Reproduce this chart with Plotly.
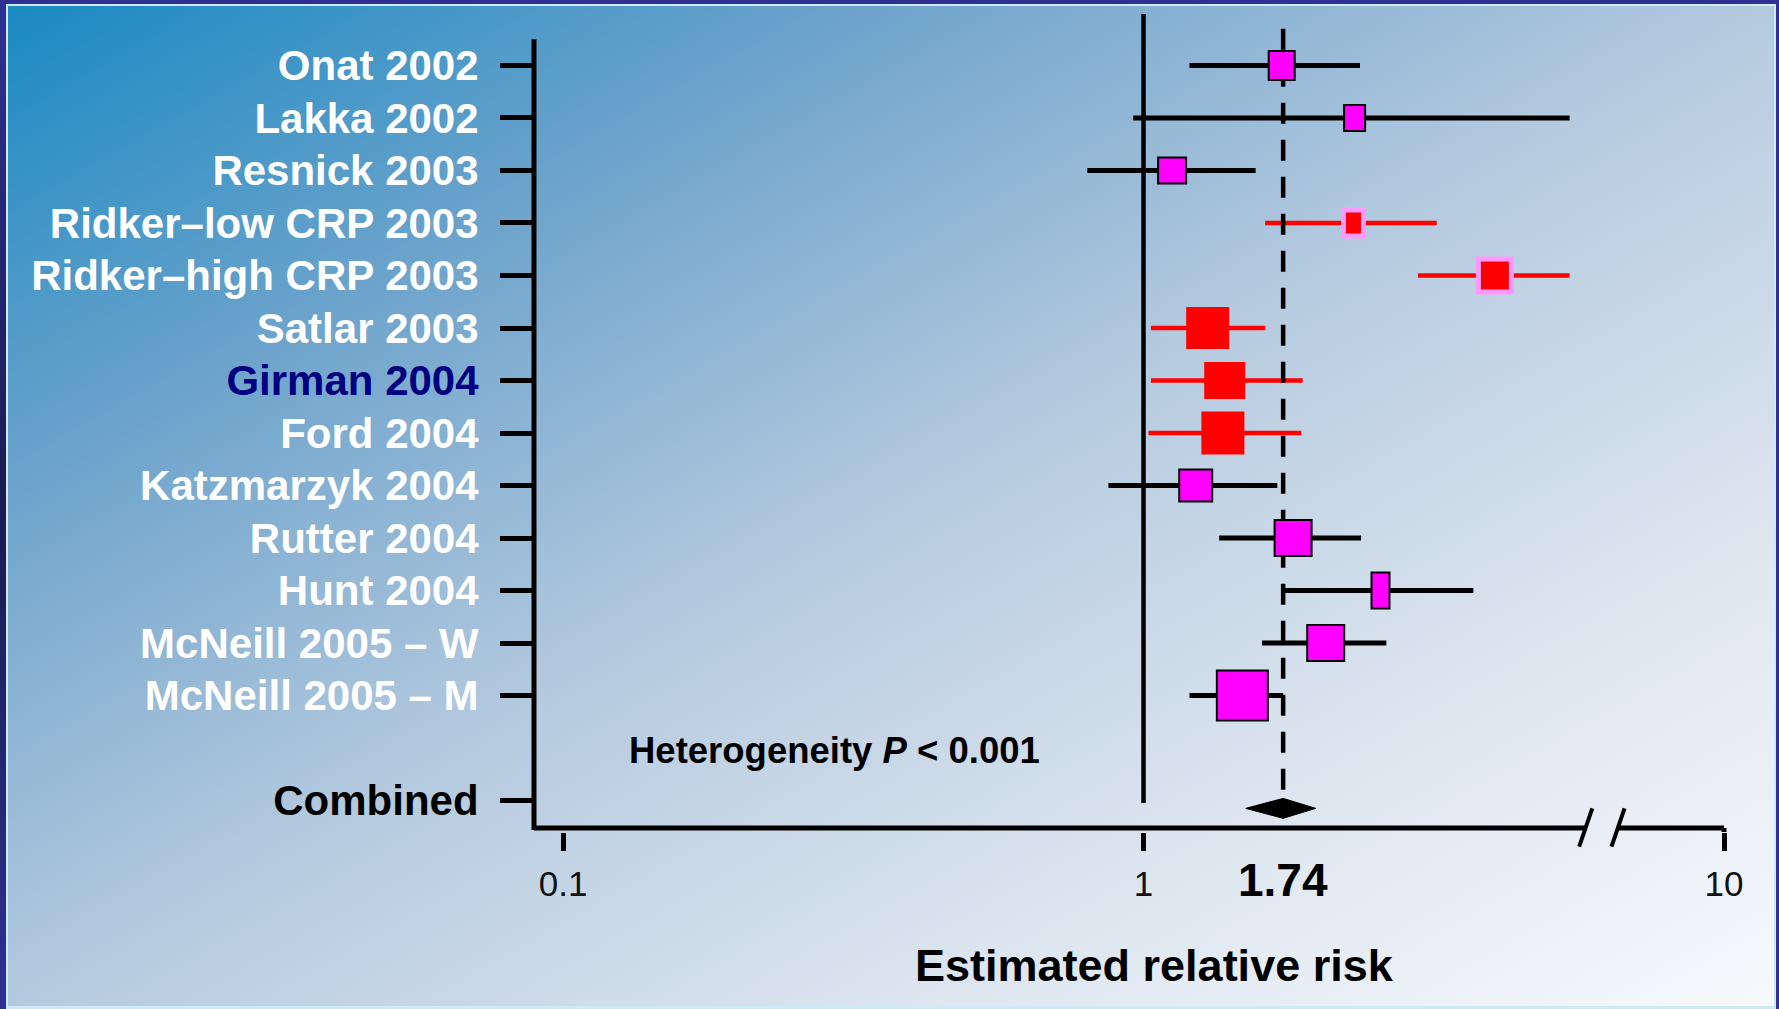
import base64
import math
import plotly.graph_objects as go

# ---------------------------------------------------------------- data
studies = [
    "Onat 2002", "Lakka 2002", "Resnick 2003", "Ridker–low CRP 2003",
    "Ridker–high CRP 2003", "Satlar 2003", "Girman 2004", "Ford 2004",
    "Katzmarzyk 2004", "Rutter 2004", "Hunt 2004", "McNeill 2005 – W",
    "McNeill 2005 – M",
]
rel_risk = [1.73, 2.31, 1.12, 2.30, 4.03, 1.29, 1.38, 1.37, 1.23, 1.81, 2.56, 2.06, 1.48]
ci_low = [1.20, 0.96, 0.80, 1.62, 2.97, 1.03, 1.03, 1.02, 0.87, 1.35, 1.73, 1.60, 1.20]
ci_high = [2.36, 5.42, 1.56, 3.20, 5.42, 1.62, 1.88, 1.87, 1.70, 2.37, 3.70, 2.62, 1.74]

pooled_label = "Combined"
pooled_rr = 1.74
pooled_low = 1.50
pooled_high = 1.98
heterogeneity_p = "0.001"

x_tick_values = [0.1, 1, 10]
x_tick_labels = ["0.1", "1", "10"]

# ---------------------------------------------------------------- styling
study_group = ["pink", "pink", "pink", "crp", "crp", "red", "red", "red",
               "pink", "pink", "pink", "pink", "pink"]
# outer box size in px (width, height) for each study's square
box_px = [(28, 31), (23, 28), (30, 28), (25, 31), (38, 38), (43, 42), (41, 37),
          (43, 43), (35, 34), (39, 38), (20, 38), (39, 38), (53, 52)]
label_color = {"Girman 2004": "#000080", pooled_label: "#000000"}

GROUP_STYLE = {
    "pink": dict(ci="#000000", ci_w=5, fill="#FF00FF", edge="#000000", edge_w=2),
    "red": dict(ci="#FF0000", ci_w=4.5, fill="#FF0000", edge="#FF0000", edge_w=0),
    "crp": dict(ci="#FF0000", ci_w=4.5, fill="#FF0000", edge="#FF99FF", edge_w=5),
}

FONT = "Liberation Sans, Arial, Helvetica, sans-serif"
W, H = 1779, 1009
L, R, T, B = 534, 19, 10, 177
PW, PH = W - L - R, H - T - B
X_RANGE = [-1.05, 1.062]          # log10 units
Y_RANGE = [15.6, -0.057]          # rows, top to bottom
PX_PER_DECADE = PW / (X_RANGE[1] - X_RANGE[0])
PX_PER_ROW = PH / (Y_RANGE[0] - Y_RANGE[1])

rows = list(range(1, len(studies) + 1))
pooled_row = len(studies) + 2
axis_top = 0.5
axis_base = 15.524


def paper_y(px):
    return (T + PH - px) / PH


# ---------------------------------------------------------------- background
svg = f"""<svg xmlns="http://www.w3.org/2000/svg" width="{W}" height="{H}" viewBox="0 0 {W} {H}" preserveAspectRatio="none">
<defs>
<linearGradient id="bg" x1="0" y1="0" x2="1" y2="1">
<stop offset="0" stop-color="#1A8AC2"/>
<stop offset="0.25" stop-color="#6FA4CC"/>
<stop offset="0.5" stop-color="#B5CADF"/>
<stop offset="0.75" stop-color="#DCE5EF"/>
<stop offset="1" stop-color="#F7F9FC"/>
</linearGradient>
<linearGradient id="edge" x1="0" y1="0" x2="0" y2="1">
<stop offset="0" stop-color="#2E3192"/>
<stop offset="0.5" stop-color="#1B1B4F"/>
<stop offset="1" stop-color="#2E3192"/>
</linearGradient>
</defs>
<rect x="0" y="0" width="{W}" height="{H}" fill="#2E3192"/>
<rect x="0" y="0" width="6" height="{H}" fill="url(#edge)"/>
<rect x="6" y="4" width="{W - 9}" height="{H - 4}" fill="#CDEAF7"/>
<rect x="8" y="6" width="{W - 13}" height="{H - 9}" fill="url(#bg)"/>
</svg>"""
bg_uri = "data:image/svg+xml;base64," + base64.b64encode(svg.encode()).decode()

fig = go.Figure()

# ---------------------------------------------------------------- confidence intervals
for group, st in GROUP_STYLE.items():
    xs, ys = [], []
    for lo, hi, row, g in zip(ci_low, ci_high, rows, study_group):
        if g == group:
            xs += [lo, hi, None]
            ys += [row, row, None]
    fig.add_trace(go.Scatter(
        x=xs, y=ys, mode="lines", hoverinfo="skip", showlegend=False,
        line=dict(color=st["ci"], width=st["ci_w"]),
    ))

# pooled estimate diamond
d_half = 0.19
d_row = pooled_row + 0.15
fig.add_trace(go.Scatter(
    x=[pooled_low, pooled_rr, pooled_high, pooled_rr, pooled_low],
    y=[d_row, d_row - d_half, d_row, d_row + d_half, d_row],
    mode="lines", fill="toself", fillcolor="#000000",
    line=dict(color="#000000", width=1), hoverinfo="skip", showlegend=False,
))

# ---------------------------------------------------------------- reference lines and axes
shapes = [
    # left axis
    dict(type="line", xref="paper", yref="y", x0=0, x1=0, y0=axis_top, y1=axis_base + 0.04,
         line=dict(color="black", width=5), layer="above"),
    # bottom axis, with a break before 10
    dict(type="line", xref="x", yref="y", x0=10 ** X_RANGE[0], x1=5.77, y0=axis_base, y1=axis_base,
         line=dict(color="black", width=5), layer="above"),
    dict(type="line", xref="x", yref="y", x0=6.55, x1=10, y0=axis_base, y1=axis_base,
         line=dict(color="black", width=5), layer="above"),
    dict(type="line", xref="x", yref="y", x0=10, x1=10, y0=axis_base, y1=Y_RANGE[0],
         line=dict(color="black", width=5), layer="above"),
    dict(type="line", xref="x", yref="paper", x0=5.63, x1=5.93, y0=paper_y(846.7), y1=paper_y(808.3),
         line=dict(color="black", width=4), layer="above"),
    dict(type="line", xref="x", yref="paper", x0=6.40, x1=6.74, y0=paper_y(846.7), y1=paper_y(808.3),
         line=dict(color="black", width=4), layer="above"),
    # line of no effect
    dict(type="line", xref="x", yref="y", x0=1, x1=1, y0=0.02, y1=pooled_row + 0.05,
         line=dict(color="black", width=4.5), layer="above"),
    # pooled estimate
    dict(type="line", xref="x", yref="y", x0=pooled_rr, x1=pooled_rr, y0=0.3, y1=d_row - d_half,
         line=dict(color="black", width=4.5, dash="21px,16px"), layer="above"),
]

# study squares, sized in screen pixels around each estimate
for rr, row, g, (w, h) in zip(rel_risk, rows, study_group, box_px):
    st = GROUP_STYLE[g]
    ew = st["edge_w"]
    fx = 10 ** ((w - ew) / 2 / PX_PER_DECADE)
    dy = (h - ew) / 2 / PX_PER_ROW
    shapes.append(dict(
        type="rect", xref="x", yref="y",
        x0=rr / fx, x1=rr * fx, y0=row - dy, y1=row + dy,
        fillcolor=st["fill"], line=dict(color=st["edge"], width=ew), layer="above",
    ))

# ---------------------------------------------------------------- labels
tick_rows = rows + [pooled_row]
tick_text = []
for name in studies + [pooled_label]:
    if name in label_color:
        tick_text.append(f"<span style='color:{label_color[name]}'>{name}</span>")
    else:
        tick_text.append(name)

annotations = [
    dict(text=f"{pooled_rr:.2f}", xref="x", yref="paper", x=math.log10(pooled_rr), y=paper_y(880),
         xanchor="center", yanchor="middle", showarrow=False,
         font=dict(family=FONT, size=46, color="black", weight="bold")),
    dict(text=f"Heterogeneity <i>P</i> &lt; {heterogeneity_p}", xref="paper", yref="paper",
         x=(627 - L) / PW, y=paper_y(750.5), xanchor="left", yanchor="middle", showarrow=False,
         font=dict(family=FONT, size=36.5, color="black", weight="bold")),
    dict(text="Estimated relative risk", xref="paper", yref="paper",
         x=(1154 - L) / PW, y=paper_y(965), xanchor="center", yanchor="middle", showarrow=False,
         font=dict(family=FONT, size=45, color="black", weight="bold")),
]

fig.update_layout(
    width=W, height=H, autosize=False,
    margin=dict(l=L, r=R, t=T, b=B, pad=0),
    paper_bgcolor="#2E3192", plot_bgcolor="rgba(0,0,0,0)",
    showlegend=False,
    images=[dict(source=bg_uri, xref="paper", yref="paper", x=-L / PW, y=1 + T / PH,
                 sizex=W / PW, sizey=H / PH, xanchor="left", yanchor="top",
                 sizing="stretch", layer="below")],
    shapes=shapes,
    annotations=annotations,
    xaxis=dict(
        type="log", range=X_RANGE, showgrid=False, zeroline=False, showline=False,
        tickvals=x_tick_values, ticktext=x_tick_labels,
        ticks="outside", ticklen=18, tickwidth=5, tickcolor="black",
        ticklabelstandoff=3,
        tickfont=dict(family=FONT, size=35, color="#111111"),
    ),
    yaxis=dict(
        range=Y_RANGE, showgrid=False, zeroline=False, showline=False,
        tickvals=tick_rows, ticktext=tick_text,
        ticks="outside", ticklen=33, tickwidth=5, tickcolor="black",
        ticklabelstandoff=13,
        tickfont=dict(family=FONT, size=42, color="white", weight="bold"),
    ),
)

fig.write_html("out.html", config={"displayModeBar": False})
